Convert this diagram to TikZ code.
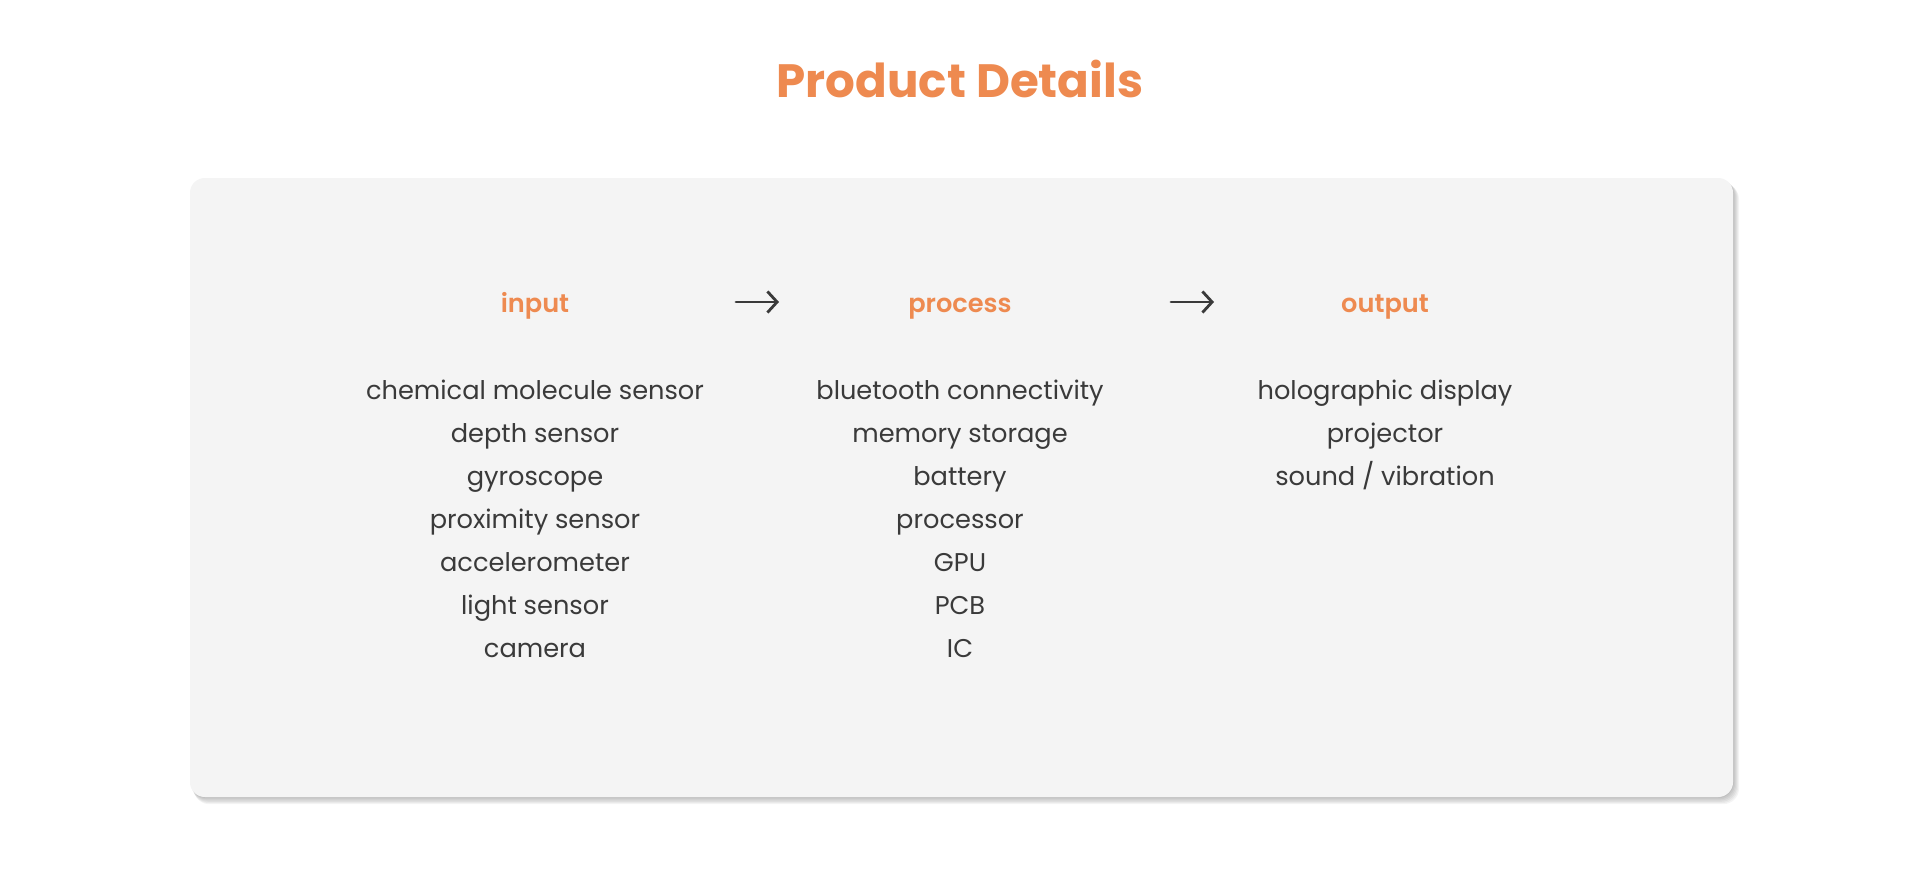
\documentclass[tikz,border=0pt]{standalone}
\usepackage{fontspec}
\setmainfont{Poppins}
\newfontfamily\semib{Poppins SemiBold}
\usetikzlibrary{positioning,arrows.meta}
\definecolor{accent}{HTML}{EE8A50}
\definecolor{ink}{HTML}{3A3A3A}
\definecolor{panel}{HTML}{F4F4F4}
\tikzset{%
  title/.style={font=\fontsize{26.6}{30}\selectfont\bfseries,text=accent,anchor=base},
  head/.style={font=\fontsize{14.6}{17}\semib,text=accent,anchor=base},
  item/.style={font=\fontsize{14.6}{17}\selectfont,text=ink,anchor=base},
  flow/.style={draw=ink,line width=1.6pt,line cap=round,-{Straight Barb[length=5.5pt,width=12pt,line width=1.6pt]}}
}
\begin{document}
\begin{tikzpicture}[x=0.02cm,y=-0.02cm,
	shade/.style={fill=black,opacity=.045,rounded corners=9pt,draw=none}]
	% canvas
	\useasboundingbox[fill=white] (0,0) rectangle (1920,887);
	% soft shadow
	\foreach \s in {1,2,...,6}
	\fill[shade] (190+\s*0.6,178+\s*0.9) rectangle (1733+\s*1,797+\s*1.2);
	\node[draw=none,fill=panel,rounded corners=8.5pt,minimum width=1543*0.02cm,minimum height=619*0.02cm] (box) at (961.5,487.5) {};
	
	\node[title] (ttl) at (960,97) {Product Details};
	
	\node[head] (inhead) at (535,312) {input};
	\node[head] (prochead) at (960,312) {process};
	\node[head] (outhead) at (1385,312) {output};
	
	\coordinate (a1s) at (736,302); \coordinate (a1e) at (779,302);
	\coordinate (a2s) at (1171,302); \coordinate (a2e) at (1214,302);
	\draw[flow] (a1s) -- (a1e);
	\draw[flow] (a2s) -- (a2e);
	
	\foreach \t [count=\i] in {chemical molecule sensor,depth sensor,gyroscope,%
		proximity sensor,accelerometer,light sensor,camera}
	\node[item] (in\i) at (535,357+42.9*\i) {\t};
	\foreach \t [count=\i] in {bluetooth connectivity,memory storage,battery,%
		processor,GPU,PCB,IC}
	\node[item] (proc\i) at (960,357+42.9*\i) {\t};
	\foreach \t [count=\i] in {holographic display,projector,sound / vibration}
	\node[item] (out\i) at (1385,357+42.9*\i) {\t};
\end{tikzpicture}
\end{document}
